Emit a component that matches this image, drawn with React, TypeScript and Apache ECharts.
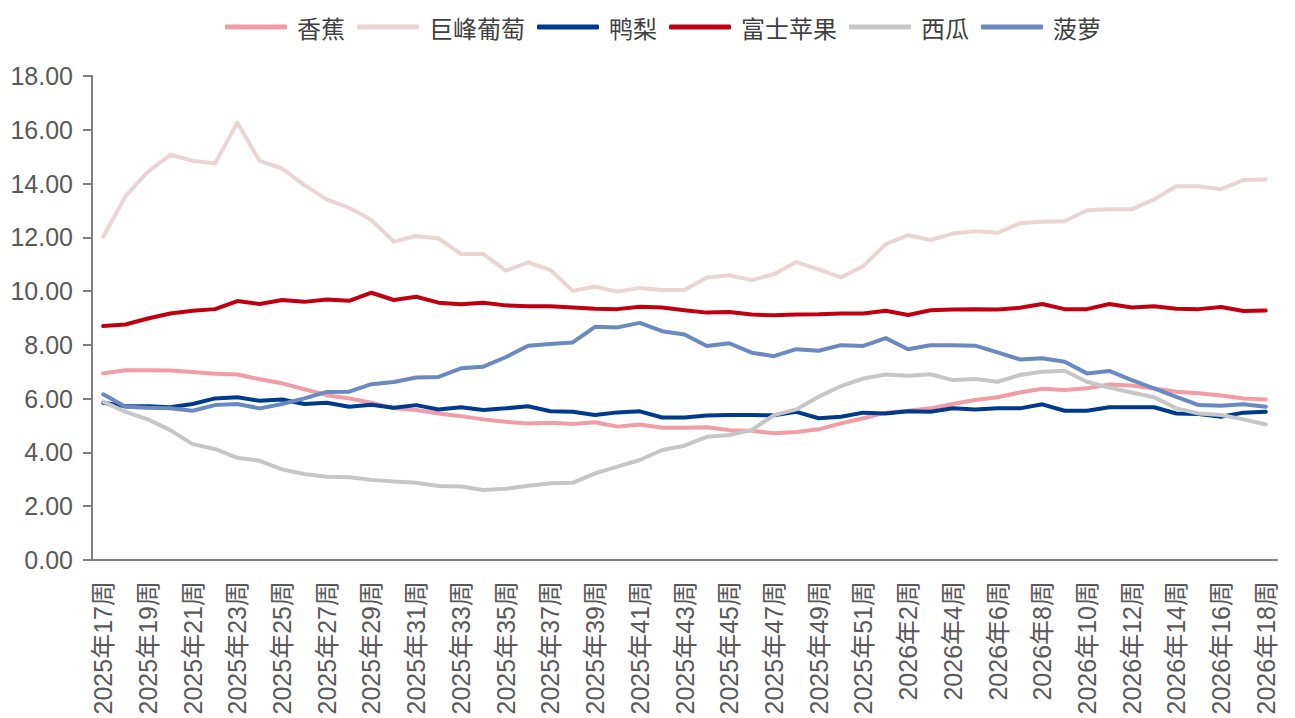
import React, { useEffect, useRef } from "react";
import * as echarts from "echarts";

const weeks2025 = [
  "2025年17周", "2025年18周", "2025年19周", "2025年20周", "2025年21周", "2025年22周",
  "2025年23周", "2025年24周", "2025年25周", "2025年26周", "2025年27周", "2025年28周",
  "2025年29周", "2025年30周", "2025年31周", "2025年32周", "2025年33周", "2025年34周",
  "2025年35周", "2025年36周", "2025年37周", "2025年38周", "2025年39周", "2025年40周",
  "2025年41周", "2025年42周", "2025年43周", "2025年44周", "2025年45周", "2025年46周",
  "2025年47周", "2025年48周", "2025年49周", "2025年50周", "2025年51周", "2025年52周",
];
const weeks2026 = [
  "2026年2周", "2026年3周", "2026年4周", "2026年5周", "2026年6周", "2026年7周",
  "2026年8周", "2026年9周", "2026年10周", "2026年11周", "2026年12周", "2026年13周",
  "2026年14周", "2026年15周", "2026年16周", "2026年17周", "2026年18周",
];
const categories = [...weeks2025, ...weeks2026];

const banana = [
  6.94, 7.06, 7.06, 7.05, 6.99, 6.93, 6.9, 6.72, 6.57, 6.35, 6.13, 6.01, 5.85, 5.64,
  5.58, 5.45, 5.35, 5.23, 5.14, 5.08, 5.1, 5.06, 5.12, 4.96, 5.04, 4.92, 4.92, 4.94,
  4.83, 4.81, 4.71, 4.76, 4.86, 5.08, 5.27, 5.48, 5.55, 5.64, 5.8, 5.95, 6.05, 6.23,
  6.37, 6.32, 6.39, 6.53, 6.49, 6.38, 6.26, 6.2, 6.12, 6.01, 5.97,
];
const grape = [
  12.02, 13.53, 14.44, 15.07, 14.85, 14.75, 16.26, 14.84, 14.56, 13.94, 13.41, 13.1,
  12.64, 11.84, 12.05, 11.96, 11.38, 11.38, 10.76, 11.07, 10.79, 10.01, 10.16, 9.98,
  10.12, 10.04, 10.04, 10.51, 10.59, 10.41, 10.63, 11.08, 10.81, 10.51, 10.93, 11.75,
  12.08, 11.9, 12.14, 12.23, 12.17, 12.52, 12.58, 12.6, 13.01, 13.04, 13.04, 13.41,
  13.9, 13.9, 13.79, 14.13, 14.15,
];
const pear = [
  5.85, 5.72, 5.72, 5.68, 5.8, 6.01, 6.05, 5.92, 5.97, 5.8, 5.85, 5.7, 5.77, 5.66,
  5.76, 5.6, 5.68, 5.58, 5.64, 5.72, 5.53, 5.51, 5.39, 5.49, 5.53, 5.3, 5.3, 5.37,
  5.39, 5.39, 5.38, 5.51, 5.27, 5.33, 5.48, 5.45, 5.53, 5.51, 5.64, 5.6, 5.64, 5.64,
  5.79, 5.55, 5.55, 5.68, 5.68, 5.68, 5.45, 5.43, 5.33, 5.48, 5.51,
];
const apple = [
  8.7, 8.76, 8.98, 9.17, 9.27, 9.33, 9.63, 9.52, 9.67, 9.6, 9.69, 9.64, 9.94, 9.67,
  9.79, 9.57, 9.51, 9.57, 9.47, 9.44, 9.44, 9.39, 9.34, 9.33, 9.42, 9.39, 9.29, 9.2,
  9.22, 9.13, 9.1, 9.13, 9.14, 9.17, 9.17, 9.27, 9.11, 9.29, 9.32, 9.33, 9.32, 9.38,
  9.52, 9.33, 9.33, 9.52, 9.39, 9.44, 9.34, 9.33, 9.41, 9.26, 9.28,
];
const watermelon = [
  5.89, 5.51, 5.23, 4.83, 4.31, 4.13, 3.8, 3.69, 3.37, 3.2, 3.1, 3.08, 2.98, 2.92,
  2.87, 2.75, 2.73, 2.6, 2.65, 2.76, 2.85, 2.87, 3.22, 3.47, 3.72, 4.09, 4.25, 4.58,
  4.65, 4.83, 5.39, 5.6, 6.07, 6.47, 6.75, 6.9, 6.85, 6.91, 6.69, 6.73, 6.63, 6.88,
  7.0, 7.04, 6.63, 6.41, 6.23, 6.05, 5.64, 5.45, 5.39, 5.23, 5.04,
];
const pineapple = [
  6.16, 5.7, 5.66, 5.64, 5.55, 5.76, 5.8, 5.64, 5.8, 6.01, 6.25, 6.26, 6.54, 6.62,
  6.79, 6.81, 7.13, 7.19, 7.54, 7.97, 8.03, 8.09, 8.67, 8.65, 8.82, 8.51, 8.39, 7.96,
  8.06, 7.71, 7.58, 7.84, 7.78, 7.99, 7.96, 8.25, 7.84, 7.99, 7.99, 7.97, 7.72, 7.46,
  7.5, 7.37, 6.94, 7.03, 6.69, 6.38, 6.07, 5.76, 5.74, 5.79, 5.7,
];

const seriesNames = ["香蕉", "巨峰葡萄", "鸭梨", "富士苹果", "西瓜", "菠萝"];
const seriesColors = ["#F19CA6", "#EAD5D5", "#003A8C", "#C00010", "#C6C6C6", "#6A89C0"];
const seriesData = [banana, grape, pear, apple, watermelon, pineapple];
const yTicks = { min: 0, max: 18, interval: 2 };

const CJK = "'Noto Sans CJK SC', sans-serif";
const NUM = "'Liberation Sans', 'Noto Sans CJK SC', sans-serif";

export default function App() {
  const ref = useRef<HTMLDivElement>(null);
  useEffect(() => {
    if (!ref.current) return;
    const chart = echarts.init(ref.current, undefined, { renderer: "svg" });
    chart.setOption({
      animation: false,
      backgroundColor: "#ffffff",
      legend: {
        top: 10,
        left: 220,
        icon: "roundRect",
        itemWidth: 62,
        itemHeight: 5,
        itemGap: 12,
        textStyle: {
          fontFamily: CJK,
          fontSize: 24,
          color: "#404040",
          padding: [0, 0, 0, 5],
        },
        data: seriesNames,
      },
      grid: { left: 92, right: 18, top: 76, bottom: 158, containLabel: false },
      xAxis: {
        type: "category",
        data: categories,
        boundaryGap: true,
        axisLine: { lineStyle: { color: "#7f7f7f", width: 2 } },
        axisTick: { show: false },
        axisLabel: {
          interval: 1,
          rotate: 90,
          fontFamily: NUM,
          fontSize: 25,
          color: "#595959",
          margin: 21,
        },
      },
      yAxis: {
        type: "value",
        min: yTicks.min,
        max: yTicks.max,
        interval: yTicks.interval,
        splitLine: { show: false },
        axisLine: { show: true, lineStyle: { color: "#7f7f7f", width: 2 } },
        axisTick: { show: true, length: 9, lineStyle: { color: "#7f7f7f", width: 2 } },
        axisLabel: {
          formatter: (v: number) => v.toFixed(2),
          fontFamily: NUM,
          fontSize: 25,
          color: "#595959",
          margin: 19,
        },
      },
      series: seriesNames.map((name, i) => ({
        name,
        type: "line",
        data: seriesData[i],
        symbol: "none",
        showSymbol: false,
        smooth: false,
        color: seriesColors[i],
        lineStyle: { color: seriesColors[i], width: 4, cap: "round", join: "round" },
      })),
    });
    return () => chart.dispose();
  }, []);
  return (
    <div
      ref={ref}
      style={{ position: "absolute", left: 0, top: 0, width: 1295, height: 718 }}
    />
  );
}
